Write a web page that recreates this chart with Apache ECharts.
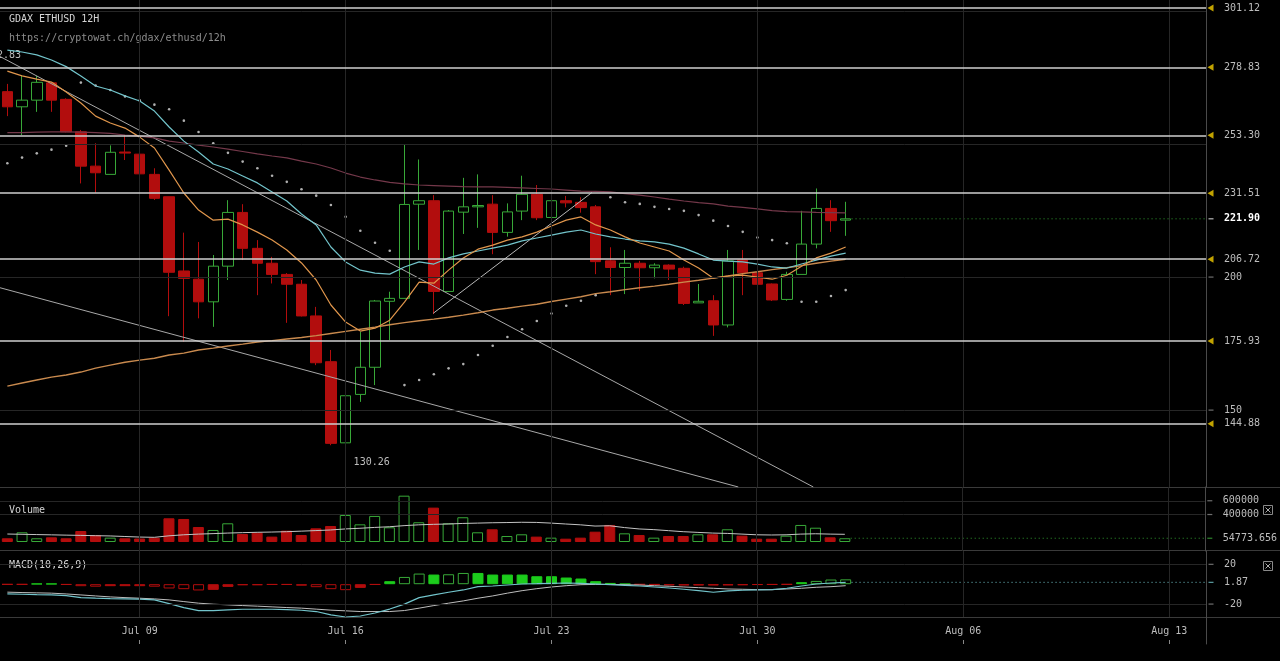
<!DOCTYPE html>
<html><head><meta charset="utf-8">
<script src="https://cdn.jsdelivr.net/npm/echarts@6/dist/echarts.min.js"></script>
<style>html,body{margin:0;padding:0;background:#000;overflow:hidden}#c{width:1280px;height:661px}</style>
</head><body><div id="c"></div>
<script>
// ---------- axis slots (12H candles) ----------
const START_UTC = Date.UTC(2017, 6, 4, 12);
const N_SLOTS = 82;
const MONTHS = ['Jan','Feb','Mar','Apr','May','Jun','Jul','Aug','Sep','Oct','Nov','Dec'];
const CATEGORIES = [];
for (let i = 0; i < N_SLOTS; i++) {
  const d = new Date(START_UTC + i * 43200000);
  CATEGORIES.push(MONTHS[d.getUTCMonth()] + ' ' + String(d.getUTCDate()).padStart(2, '0') + ' ' + String(d.getUTCHours()).padStart(2, '0') + ':00');
}
const TICK_LABELS = ['Jul 09', 'Jul 16', 'Jul 23', 'Jul 30', 'Aug 06', 'Aug 13'];

// ---------- price (OHLC) ----------
const OPEN  = [269.7,264.0,266.5,273.0,266.8,254.6,241.7,238.6,247.0,246.2, 238.6,230.2,202.3,199.2,190.7,204.1,224.3,210.8,205.2,201.0, 197.3,185.4,168.2,137.7,155.9,166.1,190.9,192.0,227.4,228.7, 194.6,224.4,226.4,227.4,216.8,224.8,231.1,222.4,228.7,228.1, 226.4,206.1,203.6,205.2,203.5,204.5,203.3,190.3,191.1,182.0, 206.4,201.6,197.4,191.6,201.0,212.4,225.8,221.4];
const CLOSE = [264.0,266.5,273.2,266.5,254.6,241.7,239.2,246.9,246.6,238.8, 229.6,201.8,199.5,190.7,204.1,224.3,210.8,205.2,201.0,197.3, 185.4,167.8,137.5,155.4,166.1,191.0,192.0,227.3,228.7,194.6, 224.8,226.4,226.9,216.8,224.5,231.1,222.3,228.7,227.9,226.1, 205.8,203.6,205.2,203.5,204.5,203.0,190.1,190.9,182.0,206.1, 201.6,197.3,191.4,201.0,212.4,225.8,221.2,221.9];
const HIGH  = [272.6,275.6,275.6,273.3,267.2,255.3,250.3,249.5,253.4,246.4, 240.9,230.2,216.7,213.2,208.3,228.9,227.4,213.9,207.6,201.5, 198.9,188.8,172.6,164.4,179.4,191.4,194.5,249.9,244.2,230.8, 225.2,237.3,238.6,230.8,227.7,238.1,234.6,233.0,230.5,230.0, 227.1,211.2,210.2,206.1,205.2,204.8,203.9,197.4,193.2,210.2, 210.2,202.6,197.6,202.0,224.9,233.3,228.9,228.3];
const LOW   = [260.5,253.4,262.1,262.1,254.4,235.2,231.7,238.6,244.0,235.8, 229.0,185.3,175.7,184.5,181.3,198.9,206.4,193.2,197.6,182.8, 185.2,166.9,136.8,130.26,153.1,159.4,176.3,192.0,210.2,186.1, 194.6,216.2,218.5,208.6,215.2,221.4,221.4,222.4,226.2,224.2, 201.1,193.2,193.6,194.8,199.5,198.9,189.5,190.3,177.9,181.1, 193.2,197.0,191.0,191.1,201.0,210.8,217.0,215.5];

// ---------- price indicators ----------
const MA_CYAN   = [285.3,284.6,283.5,281.6,279.1,275.6,271.8,270.3,268.1,266.2, 262.4,256.4,251.1,247.0,242.5,240.6,238.0,235.4,232.0,228.6, 223.7,219.6,211.3,205.7,202.6,201.5,201.1,203.8,205.7,204.9, 207.2,208.7,209.8,210.9,212.0,213.6,214.7,215.8,216.9,217.7, 216.2,215.1,214.3,213.6,213.2,212.4,210.9,208.7,206.4,206.0, 205.7,204.9,203.8,203.4,204.9,206.4,207.9,209.0];
const MA_ORANGE = [277.4,275.6,274.4,273.3,269.6,265.4,260.5,257.9,256.0,252.6, 248.5,240.2,231.6,225.2,221.4,221.8,219.6,216.9,213.9,210.2, 205.3,198.9,189.5,183.1,179.7,180.8,183.8,190.6,198.1,197.7, 202.6,207.2,210.5,212.0,213.9,215.1,216.9,219.2,221.4,222.6, 219.6,217.7,215.1,212.8,211.3,209.8,206.4,203.4,199.6,200.4, 200.7,200.0,199.2,200.7,204.1,207.2,209.0,211.3];
const MA_LONG   = [159.0,160.2,161.3,162.4,163.2,164.3,165.8,166.9,168.0,168.8, 169.5,170.7,171.4,172.6,173.3,174.1,174.8,175.6,176.1,176.7, 177.3,178.0,178.8,179.6,180.4,181.2,182.1,182.9,183.6,184.2, 184.9,185.7,186.6,187.6,188.3,189.1,189.8,190.8,191.7,192.6, 193.8,194.5,195.3,196.0,196.6,197.3,198.1,198.8,199.6,200.4, 201.3,202.0,202.8,203.5,204.3,205.2,206.0,206.7];
const MA_MAROON = [254.3,254.3,254.5,254.6,254.6,254.5,254.3,254.0,253.4,253.0, 252.3,251.1,250.4,249.6,248.9,248.1,247.2,246.3,245.5,244.8, 243.6,242.5,241.0,239.1,237.6,236.5,235.6,235.0,234.6,234.4, 234.2,234.0,233.9,233.9,233.7,233.5,233.3,233.1,232.7,232.3, 232.2,232.0,231.4,230.8,230.1,229.3,228.6,228.0,227.5,226.7, 226.2,225.6,225.0,224.6,224.5,224.3,224.2,224.1];
const SAR       = [242.8,244.9,246.5,247.9,249.4,273.1,272.0,270.3,267.9,266.4, 264.8,263.1,258.8,254.5,250.3,246.7,243.4,240.9,238.1,235.8, 233.0,230.6,227.1,222.7,217.4,212.9,209.9,159.4,161.3,163.5, 165.7,167.3,170.7,174.2,177.5,180.4,183.5,186.3,189.2,191.1, 193.2,230.0,228.1,227.5,226.4,225.6,224.9,223.3,221.2,219.2, 217.0,214.9,213.9,212.7,190.7,190.7,192.9,195.1];

// drawn levels and trend lines [slot, price]
const LEVELS  = [301.12, 278.83, 253.30, 231.51, 206.72, 175.93, 144.88];
const PRICE_TICKS = [150, 200];
const PRICE_GRIDLINES = [150, 200, 250, 300];
const TREND_A = [[-0.5, 282.9], [54.8, 121.1]];
const TREND_B = [[-0.5, 196.0], [49.7, 121.1]];
const TREND_C = [[28.96, 186.4], [39.75, 231.8]];
const OFFSCREEN_HIGH = '282.83';

// ---------- volume ----------
const VOLUME = [54000,141000,54000,68000,54000,160000,102000,63000,54000,51000, 63000,345000,335000,218000,175000,272000,116000,136000,78000,165000, 102000,199000,233000,393000,257000,379000,214000,674000,287000,500000, 272000,360000,141000,185000,87000,112000,78000,63000,48000,63000, 150000,248000,126000,102000,63000,87000,87000,112000,112000,185000, 92000,48000,48000,92000,248000,208000,68000,54773.656];
const VOLUME_MA = [116000,112000,108000,104000,100000,96000,92000,88000,80000,72000, 68000,90000,105000,115000,122000,130000,136000,141000,145000,150000, 158000,166000,175000,190000,200000,212000,222000,238000,250000,257000, 262000,270000,275000,280000,283000,287000,285000,275000,262000,250000, 232000,236000,210000,190000,180000,165000,150000,140000,130000,125000, 115000,105000,102000,105000,115000,120000,115000,112000];
const VOLUME_TICKS = [400000, 600000];

// ---------- MACD(10,26,9) ----------
const MACD_LINE = [-9.8,-10.1,-10.5,-10.8,-11.5,-13.5,-14.1,-14.5,-14.8,-15.1, -15.8,-19.5,-23.5,-26.5,-26.5,-25.8,-25.2,-25.2,-25.2,-25.5, -26.2,-27.5,-30.8,-33.0,-32.0,-29.0,-25.0,-20.0,-13.5,-10.8, -8.1,-5.8,-2.5,-1.8,-0.8,0.2,0.5,0.9,1.2,0.9, 0.2,-0.5,-1.1,-1.8,-2.8,-3.8,-5.1,-6.5,-8.1,-6.8, -6.1,-5.8,-5.5,-4.1,-1.8,0.2,1.2,1.87];
const MACD_SIGNAL = [-8.0,-8.4,-8.7,-9.0,-9.8,-10.8,-11.8,-12.8,-13.5,-14.1, -14.8,-15.8,-17.5,-19.1,-20.1,-20.8,-21.5,-22.1,-22.8,-23.5, -24.1,-25.1,-26.1,-26.8,-27.5,-27.5,-27.5,-26.5,-24.1,-21.5, -19.1,-16.8,-14.1,-11.8,-9.0,-6.5,-4.5,-2.8,-1.5,-0.5, -0.2,-0.2,-0.5,-0.8,-1.5,-2.1,-2.8,-3.5,-4.1,-4.8, -5.1,-5.5,-5.5,-4.8,-4.1,-3.1,-2.5,-1.5];
const MACD_HIST = [-0.3,-0.3,0.5,0.5,-0.5,-2.0,-2.5,-2.0,-2.0,-2.0, -2.5,-4.3,-5.0,-6.3,-5.7,-2.7,-1.0,-1.0,-0.5,-0.5, -1.5,-3.0,-5.0,-6.0,-3.7,-0.5,3.0,7.3,10.7,9.7, 10.0,11.3,11.3,9.7,9.7,9.7,8.0,8.0,6.7,5.7, 3.0,1.3,0.3,-0.3,-0.5,-1.2,-1.3,-1.3,-1.3,-1.2, -1.0,-0.7,-0.5,-0.3,2.0,3.3,4.7,4.9];
const MACD_TICKS = [-20, 20];

// ---------- build ----------
const N = OPEN.length;
const LAST = N - 1;
const LAST_PRICE = CLOSE[LAST], LAST_VOLUME = VOLUME[LAST], LAST_MACD = MACD_LINE[LAST];
const MONO = 'DejaVu Sans Mono';
const RED = '#b20d0d', GREEN = '#38a838', GREEN_FILL = '#1ccc1c';
const CYAN = '#72c4cb', GRIDC = '#262626', TXT = '#bdbdbd', AXC = '#4a4a4a';
const isUp = i => CLOSE[i] >= OPEN[i];
const isTick = c => c.endsWith('00:00') && TICK_LABELS.includes(c.slice(0, 6));
const tickCats = CATEGORIES.filter(isTick);

const candleData = OPEN.map((o, i) => [o, CLOSE[i], LOW[i], HIGH[i]]);
const volData = VOLUME.map((v, i) => ({ value: v, itemStyle: isUp(i)
  ? { color: '#000', borderColor: GREEN, borderWidth: 1 }
  : { color: RED, borderColor: RED, borderWidth: 1 } }));
const histData = MACD_HIST.map((h, i) => {
  const p = i > 0 ? MACD_HIST[i - 1] : 0;
  const growing = Math.sign(h) === Math.sign(p) && Math.abs(h) > Math.abs(p);
  const c = h >= 0 ? (growing ? GREEN : GREEN_FILL) : RED;
  return { value: h, itemStyle: growing ? { color: '#000', borderColor: c, borderWidth: 1 } : { color: c, borderColor: c, borderWidth: 1 } };
});

const GRIDS = [
  { left: 0, right: 74, top: 0, height: 487 },
  { left: 0, right: 74, top: 487, height: 64 },
  { left: 0, right: 74, top: 551, height: 66 },
  { left: 0, right: 74, top: 617, height: 27 }
];
function catAxis(g, labels) {
  return { type: 'category', gridIndex: g, data: CATEGORIES, boundaryGap: true,
    axisLine: { show: false, onZero: false }, axisTick: { show: false }, splitLine: { show: false },
    axisLabel: labels ? { show: true, interval: (i, v) => isTick(v), formatter: v => v.slice(0, 6),
      color: TXT, fontFamily: MONO, fontSize: 10, margin: 9 } : { show: false } };
}
function valAxis(g) { return { type: 'value', gridIndex: g, min: -0.5, max: N_SLOTS - 0.5, show: false, axisLine: { onZero: false } }; }
function yAx(g, min, max, labelVals, fmt) {
  return { type: 'value', gridIndex: g, position: 'right', min: min, max: max, scale: true,
    axisLine: { show: true, onZero: false, lineStyle: { color: AXC } },
    axisTick: { show: false }, splitLine: { show: false },
    axisLabel: { show: true, customValues: labelVals, formatter: fmt, margin: 18, fontFamily: MONO, fontSize: 10, color: TXT,
      rich: { b: { color: '#ffffff', fontWeight: 'bold', fontSize: 10, fontFamily: MONO } } } };
}
// short tick marks just right of the price/volume/MACD axes (markLine on the hidden value x-axis, unclipped)
function tickMarks(xi, yi, vals, color) {
  return { type: 'line', xAxisIndex: xi, yAxisIndex: yi, data: [], silent: true, clip: false,
    markLine: { silent: true, symbol: 'none', animation: false, label: { show: false },
      lineStyle: { color: color, width: 1, type: 'solid' },
      data: vals.map(v => [{ coord: [N_SLOTS - 0.5, v] }, { coord: [N_SLOTS - 0.5, v], symbolOffset: 0 }]) } };
}
function gridLines(g, yVals) {
  return { type: 'line', xAxisIndex: g, yAxisIndex: g, data: [], silent: true,
    markLine: { silent: true, symbol: 'none', animation: false, label: { show: false },
      lineStyle: { color: GRIDC, width: 1, type: 'solid' },
      data: tickCats.map(c => ({ xAxis: c })).concat(yVals.map(v => ({ yAxis: v }))) } };
}
function plainLine(xi, yi, data, color, width, type) {
  return { type: 'line', xAxisIndex: xi, yAxisIndex: yi, data: data, symbol: 'none', silent: true,
    lineStyle: { color: color, width: width || 1, type: type || 'solid' } };
}
// axis tick drawn as a tiny symbol-less scatter (a 6px horizontal bar)
function axisTicks(xi, yi, vals, color) {
  return { type: 'scatter', xAxisIndex: xi, yAxisIndex: yi, clip: false, silent: true, z: 8,
    data: vals.map(v => [N_SLOTS - 0.5, v]), symbol: 'rect', symbolSize: [5, 1.2], symbolOffset: [5, 0],
    itemStyle: { color: color } };
}
const txt = (x, y, s, fill) => ({ type: 'text', x: x, y: y, silent: true,
  style: { text: s, fill: fill, fontSize: 10, fontFamily: MONO, verticalAlign: 'middle' } });

const option = {
  backgroundColor: '#000',
  animation: false,
  grid: GRIDS,
  xAxis: [catAxis(0, false), catAxis(1, false), catAxis(2, true), valAxis(0), valAxis(1), valAxis(2),
    { type: 'category', gridIndex: 3, data: CATEGORIES, boundaryGap: true,
      axisLine: { show: false, onZero: false }, axisLabel: { show: false }, splitLine: { show: false },
      axisTick: { show: true, inside: true, alignWithLabel: true, length: 4, interval: (i, v) => isTick(v), lineStyle: { color: '#888' } } }],
  yAxis: [
    yAx(0, 121.1, 304.14, LEVELS.concat(PRICE_TICKS, [LAST_PRICE]), v => {
      if (LEVELS.includes(v)) return v.toFixed(2);
      if (v === LAST_PRICE) return '{b|' + v.toFixed(2) + '}';
      return String(v);
    }),
    yAx(1, -130950, 800250, VOLUME_TICKS.concat([LAST_VOLUME]), v => String(v)),
    yAx(2, -33.0, 33.4, MACD_TICKS.concat([LAST_MACD]), v => (v === LAST_MACD ? v.toFixed(2) : String(v))),
    { type: 'value', gridIndex: 3, position: 'right', min: 0, max: 1, axisLabel: { show: false }, axisTick: { show: false }, splitLine: { show: false },
      axisLine: { show: true, onZero: false, lineStyle: { color: AXC } } }
  ],
  graphic: [
    txt(9, 19, 'GDAX ETHUSD 12H', '#d4d4d4'),
    txt(9, 38, 'https://cryptowat.ch/gdax/ethusd/12h', '#8c8c8c'),
    txt(-15, 55, OFFSCREEN_HIGH, TXT),
    txt(9, 510, 'Volume', '#d4d4d4'),
    txt(9, 565, 'MACD(10,26,9)', '#d4d4d4'),
    { type: 'rect', shape: { x: 1263.5, y: 505.5, width: 9, height: 9 }, style: { fill: 'none', stroke: '#8a8a8a' } },
    { type: 'line', shape: { x1: 1265.5, y1: 507.5, x2: 1270.5, y2: 512.5 }, style: { stroke: '#aaa' } },
    { type: 'line', shape: { x1: 1270.5, y1: 507.5, x2: 1265.5, y2: 512.5 }, style: { stroke: '#aaa' } },
    { type: 'rect', shape: { x: 1263.5, y: 561.5, width: 9, height: 9 }, style: { fill: 'none', stroke: '#8a8a8a' } },
    { type: 'line', shape: { x1: 1265.5, y1: 563.5, x2: 1270.5, y2: 568.5 }, style: { stroke: '#aaa' } },
    { type: 'line', shape: { x1: 1270.5, y1: 563.5, x2: 1265.5, y2: 568.5 }, style: { stroke: '#aaa' } },
    { type: 'line', shape: { x1: 0, y1: 487.5, x2: 1280, y2: 487.5 }, style: { stroke: '#3a3a3a' } },
    { type: 'line', shape: { x1: 0, y1: 550.5, x2: 1280, y2: 550.5 }, style: { stroke: '#3a3a3a' } },
    { type: 'line', shape: { x1: 0, y1: 617.5, x2: 1280, y2: 617.5 }, style: { stroke: '#3a3a3a' } }
  ],
  series: [
    gridLines(0, PRICE_GRIDLINES),
    gridLines(1, VOLUME_TICKS),
    gridLines(2, MACD_TICKS),
    plainLine(3, 0, TREND_A, '#a8a8a8', 1),
    plainLine(3, 0, TREND_B, '#a8a8a8', 1),
    plainLine(3, 0, TREND_C, '#b8b8b8', 1),
    plainLine(0, 0, MA_LONG, '#c98a4e', 1.4),
    plainLine(0, 0, MA_MAROON, '#74384a', 1.2),
    {
      type: 'candlestick', xAxisIndex: 0, yAxisIndex: 0, data: candleData, barWidth: 11,
      itemStyle: { color: '#000', color0: RED, borderColor: GREEN, borderColor0: RED, borderWidth: 1 },
      markPoint: { symbol: 'circle', symbolSize: 0, silent: true, animation: false,
        label: { show: true, position: 'right', distance: 8, color: TXT, fontFamily: MONO, fontSize: 10,
          formatter: p => Number(p.value).toFixed(2) },
        data: [{ type: 'min', valueDim: 'lowest' }] },
      markLine: { silent: true, symbol: 'none', animation: false, z: 6, label: { show: false },
        lineStyle: { color: '#cfcfcf', width: 1.5, type: 'solid' },
        data: LEVELS.map(v => ({ yAxis: v })) }
    },
    plainLine(0, 0, MA_CYAN, CYAN, 1.2),
    plainLine(0, 0, MA_ORANGE, '#e0964c', 1.2),
    { type: 'scatter', xAxisIndex: 0, yAxisIndex: 0, data: SAR, symbol: 'circle', symbolSize: 2.6, silent: true,
      itemStyle: { color: '#dcdcdc' } },
    // yellow level markers on the price axis
    { type: 'scatter', xAxisIndex: 3, yAxisIndex: 0, clip: false, silent: true, z: 8,
      data: LEVELS.map(v => [N_SLOTS - 0.5, v]), symbol: 'path://M0,5 L8,0 L8,10 Z', symbolSize: [6, 7], symbolOffset: [4.5, 0],
      itemStyle: { color: '#f2cc00' } },
    axisTicks(3, 0, PRICE_TICKS, '#8a8a8a'),
    axisTicks(3, 0, [LAST_PRICE], '#e8e8e8'),
    plainLine(3, 0, [[LAST + 0.4, LAST_PRICE], [N_SLOTS - 0.5, LAST_PRICE]], '#2f9a2f', 1, [1, 3]),
    // volume
    { type: 'bar', xAxisIndex: 1, yAxisIndex: 1, data: volData, barWidth: 11, silent: true },
    plainLine(1, 1, VOLUME_MA, '#c4c4c4', 1),
    plainLine(4, 1, [[LAST + 0.4, LAST_VOLUME], [N_SLOTS - 0.5, LAST_VOLUME]], '#2f9a2f', 1, [1, 3]),
    axisTicks(4, 1, VOLUME_TICKS, '#8a8a8a'),
    axisTicks(4, 1, [LAST_VOLUME], GREEN),
    // macd
    { type: 'bar', xAxisIndex: 2, yAxisIndex: 2, data: histData, barWidth: 11, silent: true },
    plainLine(2, 2, MACD_SIGNAL, '#bdbdbd', 1),
    plainLine(2, 2, MACD_LINE, CYAN, 1.2),
    plainLine(5, 2, [[LAST + 0.4, LAST_MACD], [N_SLOTS - 0.5, LAST_MACD]], CYAN, 1, [1, 3]),
    axisTicks(5, 2, MACD_TICKS, '#8a8a8a'),
    axisTicks(5, 2, [LAST_MACD], CYAN)
  ]
};
const chart = echarts.init(document.getElementById('c'));
chart.setOption(option);
</script></body></html>
